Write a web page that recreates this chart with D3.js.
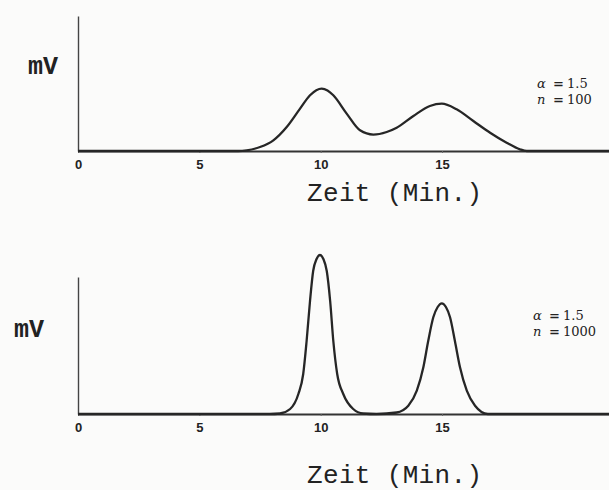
<!DOCTYPE html>
<html>
<head>
<meta charset="utf-8">
<script src="https://cdn.jsdelivr.net/npm/d3@7"></script>
<style>
  body { margin: 0; background: #fbfbfa; }
  svg { display: block; }
</style>
</head>
<body>
<div id="chart"></div>
<script>
// values: time in minutes, signal in relative mV
var tickValues = [0, 5, 10, 15];
var tickLabels = ["0", "5", "10", "15"];

// top chromatogram, alpha = 1.5, n = 100
var timeTop = [0, 6.6, 6.95, 7.5, 8.05, 8.6, 9.15, 9.56, 9.82, 10.04, 10.28, 10.52, 11.07, 11.62, 12.17,
  12.72, 13.13, 13.82, 14.5, 14.99, 15.6, 16.29, 16.98, 17.66, 18.21, 18.49, 21.9];
var signalTop = [0, 0, 0.7, 4, 10.7, 24, 42.4, 55.7, 60.8, 62.4, 60.6, 55.7, 37.4, 20.7, 16.4,
  19, 23.3, 35, 45, 47.3, 41.7, 30, 18.3, 8.3, 1.7, 0, 0];

// bottom chromatogram, alpha = 1.5, n = 1000
var timeBottom = [0, 7.9, 8.32, 8.74, 9.08, 9.28, 9.42, 9.56, 9.69, 9.83, 9.97, 10.11, 10.25, 10.39, 10.52,
  10.68, 10.93, 11.34, 11.75, 12.3, 13.13, 13.61, 13.96, 14.23, 14.43, 14.64, 14.82, 14.99, 15.16,
  15.33, 15.53, 15.74, 16.02, 16.36, 16.89, 21.9];
var signalBottom = [0, 0, 0.5, 5, 20, 40, 73, 113, 143, 155, 159, 155, 143, 113, 73,
  40, 20, 5, 0.5, 0, 1.5, 8.3, 23.3, 46.7, 73, 96.7, 107, 110.7, 107,
  96.7, 73, 46.7, 23.3, 8.3, 0, 0];

var panels = [
  {time: timeTop, signal: signalTop, base: 151, top: 16, mvX: 28, mvY: 74, labY: 169,
   titleY: 201, alpha: "1.5", n: "100", annX: 537, annY: 88},
  {time: timeBottom, signal: signalBottom, base: 414, top: 277, mvX: 14, mvY: 337, labY: 432,
   titleY: 483, alpha: "1.5", n: "1000", annX: 533, annY: 320}
];

var svg = d3.select("#chart")
    .append("svg")
    .attr("width", 609)
    .attr("height", 490);

// x scale, 15 min sits at 442 px; the axis runs to the right edge
var x = d3.scaleLinear()
    .domain([0, 21.9])
    .range([78, 609.5]);

panels.forEach(function(p) {
    var y = d3.scaleLinear()
        .domain([0, p.base - p.top])
        .range([p.base, p.top]);

    var g = svg.append("g");

    // y axis, just a bare line
    g.append("g")
        .attr("transform", "translate(" + x(0) + ",0)")
        .call(d3.axisLeft(y).tickValues([]).tickSizeOuter(0))
        .select(".domain")
        .attr("stroke", "#444")
        .attr("stroke-width", 1.4);

    // x axis with small tick marks
    var xa = g.append("g")
        .attr("transform", "translate(0," + p.base + ")")
        .call(d3.axisBottom(x).tickValues(tickValues).tickSize(2).tickSizeOuter(0)
            .tickFormat(function(d, i) { return tickLabels[i]; }));
    xa.select(".domain").attr("stroke", "#333").attr("stroke-width", 2);
    xa.selectAll(".tick line").attr("stroke", "#666");
    xa.selectAll(".tick text")
        .attr("y", p.labY - p.base)
        .attr("dy", 0)
        .attr("fill", "#222")
        .style("font-family", "'Liberation Sans', Arial, sans-serif")
        .style("font-weight", "bold")
        .style("font-size", "13px");

    // chromatogram trace
    var line = d3.line()
        .x(function(d, i) { return x(p.time[i]); })
        .y(function(d) { return y(d); })
        .curve(d3.curveMonotoneX);

    g.append("path")
        .datum(p.signal)
        .attr("d", line)
        .attr("fill", "none")
        .attr("stroke", "#262626")
        .attr("stroke-width", 2.3)
        .attr("stroke-linejoin", "round");

    // mV label
    g.append("text")
        .attr("x", p.mvX)
        .attr("y", p.mvY)
        .attr("fill", "#222")
        .style("font-family", "'Liberation Mono', 'DejaVu Sans Mono', monospace")
        .style("font-weight", "bold")
        .style("font-size", "25px")
        .text("mV");

    // axis title
    g.append("text")
        .attr("x", 307)
        .attr("y", p.titleY)
        .attr("fill", "#222")
        .attr("textLength", 175)
        .style("font-family", "'Liberation Mono', 'DejaVu Sans Mono', monospace")
        .style("font-size", "26px")
        .text("Zeit (Min.)");

    // annotation
    var ann = g.append("g")
        .attr("fill", "#222")
        .style("font-family", "'DejaVu Serif', 'Liberation Serif', serif")
        .style("font-size", "13px");
    var rows = [["\u03b1", p.alpha], ["n", p.n]];
    rows.forEach(function(r, i) {
        var ty = p.annY + i * 16;
        ann.append("text").attr("x", p.annX).attr("y", ty)
            .style("font-style", "italic").text(r[0]);
        ann.append("text").attr("x", p.annX + 16).attr("y", ty)
            .style("font-weight", "bold").text("=");
        ann.append("text").attr("x", p.annX + 30).attr("y", ty).text(r[1]);
    });
});
</script>
</body>
</html>
